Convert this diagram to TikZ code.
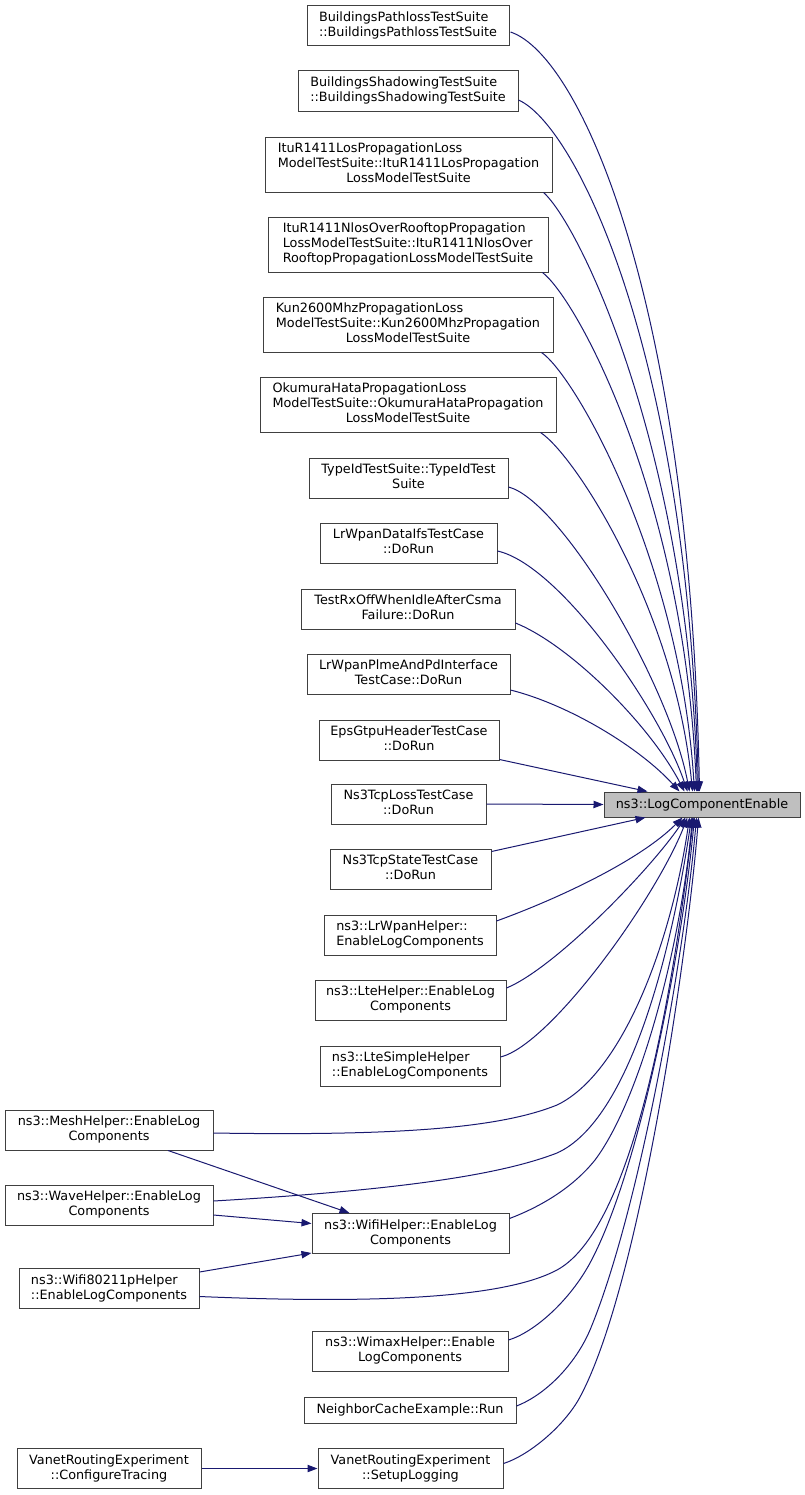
\documentclass[tikz,border=0pt]{standalone}
\usepackage{fontspec}
\setmainfont{DejaVu Sans}
\usetikzlibrary{arrows.meta,calc}
\definecolor{edgec}{HTML}{191970}
\definecolor{boxc}{HTML}{404040}
\definecolor{tgtc}{HTML}{BFBFBF}
\newcommand{\twol}[2]{\begin{tabular}{@{}l@{}}#1\\\multicolumn{1}{@{}c@{}}{#2}\end{tabular}}
\tikzset{
  box/.style={draw=boxc, fill=white, line width=0.75pt, inner sep=0pt,
    font=\fontsize{9.6pt}{11.25pt}\selectfont},
  wh/.style 2 args={minimum width=#1*0.75pt, minimum height=#2*0.75pt},
  edge/.style={draw=edgec, line width=0.75pt, -{Triangle[length=7.5pt,width=5.5pt]}}
}
\begin{document}
\begin{tikzpicture}[x=0.75pt,y=-0.75pt]
\useasboundingbox (0,0) rectangle (805,1495);
% nodes
\node[box,wh={202}{40}] (bp) at (408,26) {\twol{BuildingsPathlossTestSuite}{::BuildingsPathlossTestSuite}};
\node[box,wh={220}{40}] (bs) at (408,91) {\twol{BuildingsShadowingTestSuite}{::BuildingsShadowingTestSuite}};
\node[box,wh={287}{55}] (il) at (408.5,164.5) {\twol{ItuR1411LosPropagationLoss\\ModelTestSuite::ItuR1411LosPropagation}{LossModelTestSuite}};
\node[box,wh={280}{55}] (inl) at (408,244.5) {\twol{ItuR1411NlosOverRooftopPropagation\\LossModelTestSuite::ItuR1411NlosOver}{RooftopPropagationLossModelTestSuite}};
\node[box,wh={290}{55}] (kun) at (408,324.5) {\twol{Kun2600MhzPropagationLoss\\ModelTestSuite::Kun2600MhzPropagation}{LossModelTestSuite}};
\node[box,wh={296}{55}] (ok) at (408,404.5) {\twol{OkumuraHataPropagationLoss\\ModelTestSuite::OkumuraHataPropagation}{LossModelTestSuite}};
\node[box,wh={199}{40}] (tid) at (408.5,478) {\twol{TypeIdTestSuite::TypeIdTest}{Suite}};
\node[box,wh={177}{40}] (lwd) at (408.5,543) {\twol{LrWpanDataIfsTestCase}{::DoRun}};
\node[box,wh={214}{40}] (trx) at (408,609) {\twol{TestRxOffWhenIdleAfterCsma}{Failure::DoRun}};
\node[box,wh={203}{40}] (lwp) at (408.5,674) {\twol{LrWpanPlmeAndPdInterface}{TestCase::DoRun}};
\node[box,wh={180}{40}] (eps) at (409,740) {\twol{EpsGtpuHeaderTestCase}{::DoRun}};
\node[box,wh={155}{40}] (tcl) at (408.5,804) {\twol{Ns3TcpLossTestCase}{::DoRun}};
\node[box,wh={161}{40}] (tcs) at (410.5,869) {\twol{Ns3TcpStateTestCase}{::DoRun}};
\node[box,wh={172}{40}] (lwh) at (410,935) {\twol{ns3::LrWpanHelper::}{EnableLogComponents}};
\node[box,wh={191}{40}] (lte) at (410.5,1000) {\twol{ns3::LteHelper::EnableLog}{Components}};
\node[box,wh={180}{40}] (lts) at (410,1066) {\twol{ns3::LteSimpleHelper}{::EnableLogComponents}};
\node[box,wh={208}{40}] (mesh) at (109,1130) {\twol{ns3::MeshHelper::EnableLog}{Components}};
\node[box,wh={208}{40}] (wave) at (109,1205) {\twol{ns3::WaveHelper::EnableLog}{Components}};
\node[box,wh={197}{40}] (wifi) at (410.5,1233.5) {\twol{ns3::WifiHelper::EnableLog}{Components}};
\node[box,wh={180}{40}] (w80) at (109,1288.5) {\twol{ns3::Wifi80211pHelper}{::EnableLogComponents}};
\node[box,wh={196}{40}] (wimax) at (410,1351) {\twol{ns3::WimaxHelper::Enable}{LogComponents}};
\node[box,wh={212}{26}] (nce) at (410,1410) {NeighborCacheExample::Run};
\node[box,wh={184}{40}] (vcfg) at (109,1468.5) {\twol{VanetRoutingExperiment}{::ConfigureTracing}};
\node[box,wh={185}{40}] (vset) at (410.5,1468.5) {\twol{VanetRoutingExperiment}{::SetupLogging}};
\node[box,wh={196}{25},fill=tgtc] (tgt) at (702,804.5) {ns3::LogComponentEnable};
% edges into target, upper
\draw[edge] ($(bp.east)+(1,6)$) .. controls (580,55) and (690,300) .. ($(tgt.north west)+(96,0)$);
\draw[edge] ($(bs.east)+(0,9)$) .. controls (575,125) and (688,350) .. ($(tgt.north west)+(95,0)$);
\draw[edge] ($(il.south east)+(-9,0)$) .. controls (580,225) and (688,450) .. ($(tgt.north west)+(94,0)$);
\draw[edge] ($(inl.south east)+(-6,0)$) .. controls (578,300) and (685,500) .. ($(tgt.north west)+(93,0)$);
\draw[edge] ($(kun.south east)+(-12,0)$) .. controls (575,375) and (680,560) .. ($(tgt.north west)+(91,0)$);
\draw[edge] ($(ok.south east)+(-16,0)$) .. controls (575,455) and (675,610) .. ($(tgt.north west)+(89,0)$);
\draw[edge] ($(tid.east)+(0,9)$) .. controls (560,500) and (668,680) .. ($(tgt.north west)+(86,0)$);
\draw[edge] ($(lwd.east)+(0,8)$) .. controls (560,565) and (660,710) .. ($(tgt.north west)+(84,0)$);
\draw[edge] ($(trx.east)+(0,14)$) .. controls (570,645) and (650,725) .. ($(tgt.north west)+(81,0)$);
\draw[edge] ($(lwp.east)+(0,16)$) .. controls (570,705) and (640,748) .. ($(tgt.north west)+(76,0)$);
\draw[edge] ($(eps.south east)+(0,-1)$) -- ($(tgt.north west)+(44,0)$);
\draw[edge] (tcl.east) -- (tgt.west);
\draw[edge] ($(tcs.north east)+(0,3)$) -- ($(tgt.south west)+(42,0)$);
% edges into target, lower
\draw[edge] ($(lwh.east)+(0,-14)$) .. controls (560,898) and (640,860) .. ($(tgt.south west)+(79,0)$);
\draw[edge] ($(lte.east)+(0,-12)$) .. controls (555,968) and (650,870) .. ($(tgt.south west)+(82,0)$);
\draw[edge] ($(lts.east)+(0,-9)$) .. controls (550,1045) and (655,900) .. ($(tgt.south west)+(84,0)$);
\draw[edge] ($(mesh.east)+(0,3)$) .. controls (400,1136) and (500,1128) .. (557,1105) .. controls (620,1075) and (670,950) .. ($(tgt.south west)+(86,0)$);
\draw[edge] ($(wave.east)+(0,-4)$) .. controls (400,1190) and (500,1175) .. (557,1153) .. controls (630,1120) and (672,950) .. ($(tgt.south west)+(88,0)$);
\draw[edge] ($(wifi.east)+(0,-15)$) .. controls (545,1205) and (575,1185) .. (595,1160) .. controls (640,1100) and (680,950) .. ($(tgt.south west)+(89,0)$);
\draw[edge] ($(w80.east)+(0,8)$) .. controls (400,1305) and (510,1295) .. (557,1270) .. controls (640,1225) and (678,950) .. ($(tgt.south west)+(90,0)$);
\draw[edge] ($(wimax.east)+(0,-11)$) .. controls (535,1332) and (570,1300) .. (590,1263) .. controls (640,1170) and (682,950) .. ($(tgt.south west)+(91,0)$);
\draw[edge] ($(nce.east)+(0,-4)$) .. controls (545,1395) and (575,1365) .. (590,1330) .. controls (640,1210) and (685,950) .. ($(tgt.south west)+(93,0)$);
\draw[edge] ($(vset.east)+(0,-5)$) .. controls (530,1455) and (565,1425) .. (580,1397) .. controls (640,1285) and (688,950) .. ($(tgt.south west)+(95,0)$);
% other edges
\draw[edge] ($(mesh.south)+(59,0)$) -- ($(wifi.north west)+(38,0)$);
\draw[edge] ($(wave.east)+(0,10)$) -- ($(wifi.west)+(0,-10)$);
\draw[edge] ($(w80.north east)+(0,4)$) -- ($(wifi.south west)+(0,-1)$);
\draw[edge] (vcfg.east) -- (vset.west);
\end{tikzpicture}
\end{document}
